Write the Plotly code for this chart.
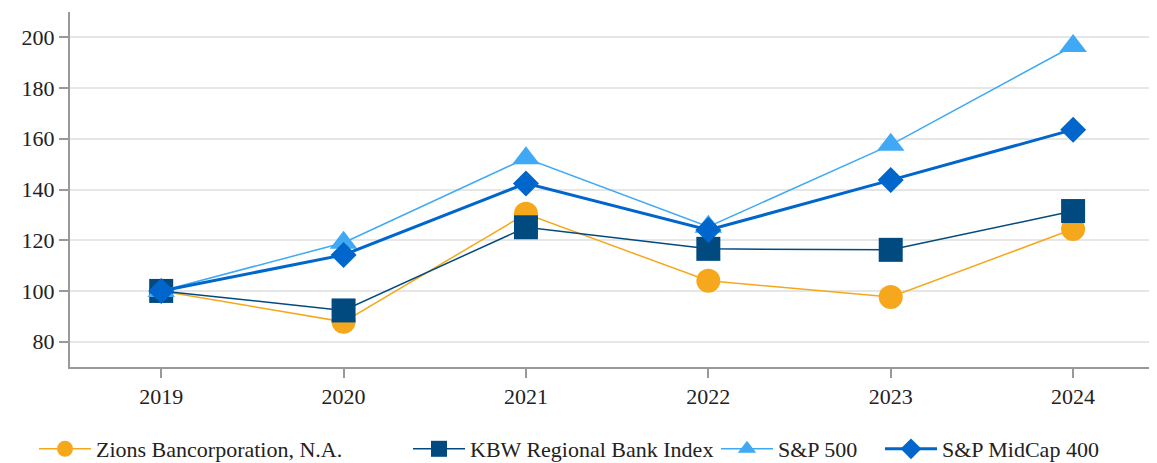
import plotly.graph_objects as go

years = [2019, 2020, 2021, 2022, 2023, 2024]

zions = [100.0, 87.8, 130.4, 104.0, 97.6, 124.4]
kbw = [100.0, 92.3, 125.1, 116.6, 116.2, 131.5]
sp500 = [100.0, 119.0, 152.3, 125.3, 157.6, 196.6]
midcap = [100.0, 114.2, 142.4, 124.0, 143.7, 163.6]

series = [
    ("Zions Bancorporation, N.A.", zions, "#F5A81C", "circle", 1.5, 24),
    ("KBW Regional Bank Index", kbw, "#004A7F", "square", 1.5, 24),
    ("S&P 500", sp500, "#3FA9F5", "triangle-up", 1.5, 24),
    ("S&P MidCap 400", midcap, "#0066CC", "diamond", 3, 20),
]

W, H = 1149, 455  # page body has an 8px margin, so the figure is sized to fit
legend_left = [26, 400, 708, 872]

fig = go.Figure()
for i, (name, vals, color, sym, lw, ms) in enumerate(series):
    fig.add_trace(go.Scatter(
        x=years, y=vals, name=name, mode="lines+markers",
        line=dict(color=color, width=lw),
        marker=dict(symbol=sym, size=ms, color=color, line=dict(width=0)),
        legend="legend" if i == 0 else f"legend{i + 1}",
    ))

font = "Liberation Serif"
legends = {}
for i, lx in enumerate(legend_left):
    key = "legend" if i == 0 else f"legend{i + 1}"
    legends[key] = dict(orientation="h", xref="container", yref="container",
                        x=lx / W, xanchor="left", y=14 / H, yanchor="middle",
                        itemwidth=52, font=dict(family=font, size=22, color="#222"),
                        bgcolor="rgba(0,0,0,0)")

fig.update_layout(
    width=W, height=H,
    margin=dict(l=62, r=0, t=4, b=96, autoexpand=False),
    paper_bgcolor="white", plot_bgcolor="white",
    font=dict(family=font, size=22, color="#222"),
    showlegend=True,
    xaxis=dict(range=[2018.5, 2024.46], tickvals=years, showgrid=False,
               showline=True, linecolor="#999", linewidth=2,
               ticks="outside", ticklen=9, tickcolor="#999", tickwidth=2,
               zeroline=False),
    yaxis=dict(range=[70, 210], tickvals=[80, 100, 120, 140, 160, 180, 200],
               showgrid=True, gridcolor="#E6E6E6", gridwidth=1.5,
               showline=True, linecolor="#999", linewidth=2,
               ticks="outside", ticklen=9, tickcolor="#999", tickwidth=2,
               zeroline=False),
    **legends,
)

fig.write_html("out.html")
